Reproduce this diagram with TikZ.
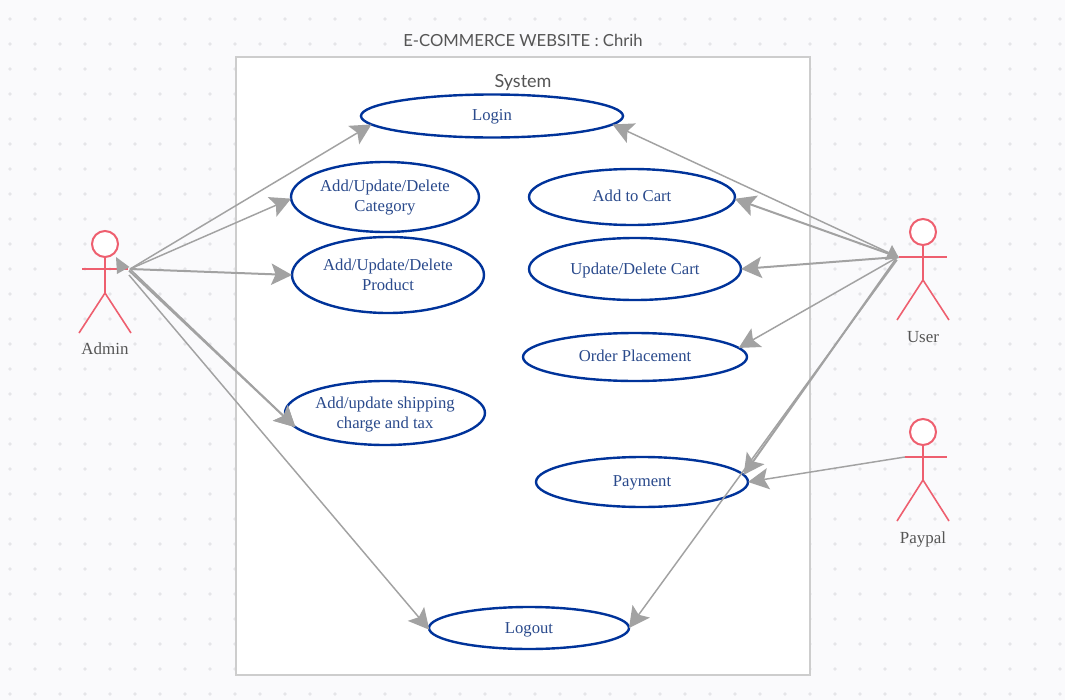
\documentclass[tikz,border=0pt]{standalone}
\usepackage{fontspec}
\setmainfont{Liberation Serif}
\newfontfamily\titlefont{Lato}
\usetikzlibrary{arrows.meta,shapes.geometric}
\definecolor{pagebg}{HTML}{FAFAFC}
\definecolor{dotc}{HTML}{E5E5E8}
\definecolor{framec}{HTML}{CDCDCD}
\definecolor{ucline}{HTML}{00339A}
\definecolor{uctext}{HTML}{2A4A8C}
\definecolor{actorc}{HTML}{EE5F6F}
\definecolor{linkc}{HTML}{A2A2A2}
\definecolor{labelc}{HTML}{555555}
\newcommand{\nudged}[2]{\raisebox{#1}[\height][\depth]{#2}}
\tikzset{
  uc/.style 2 args={ellipse,draw=ucline,fill=white,line width=1.8pt,inner sep=0pt,outer sep=0pt,
    minimum width=#1*0.75pt,minimum height=#2*0.75pt,text=uctext,align=center,
    font=\fontsize{12.5}{15}\selectfont},
  link/.style={draw=linkc,line width=1.1pt,-{Stealth[length=15.5pt,width=16pt,inset=3.2pt]}},
  linkthick/.style={link,line width=1.5pt},
  limb/.style={draw=actorc,line width=1.2pt},
  actorhead/.style={circle,draw=actorc,fill=white,line width=1.5pt,minimum size=19.5pt,inner sep=0pt,outer sep=0pt},
  actorlabel/.style={text=labelc,font=\fontsize{12.7}{14}\selectfont,inner sep=0pt},
  headtip/.style={fill=linkc},
  toptitle/.style={text=labelc,font=\titlefont\fontsize{12.5}{15}\selectfont,inner sep=0pt},
  systemtitle/.style={toptitle,font=\titlefont\fontsize{13.5}{15}\selectfont}
}
\begin{document}
\begin{tikzpicture}[x=0.75pt,y=-0.75pt]
\useasboundingbox (0,0) rectangle (1065,700);
\fill[pagebg] (0,0) rectangle (1065,700);
\foreach \i in {0,...,42}{
  \foreach \j in {0,...,27}{
    \fill[dotc] ({10+25*\i},{19+25*\j}) circle (1.4pt);
  }
}
% system frame
\node[draw=framec,fill=white,line width=1.5pt,minimum width=430.5pt,minimum height=463.5pt,inner sep=0pt,outer sep=0pt] (system) at (522.75,366) {};
\node[toptitle] (title) at (523,40) {E-COMMERCE WEBSITE : Chrih};
\node[systemtitle] (systemlabel) at (523,83) {System};
% use cases
\node[uc={262}{43}] (login) at (492,116) {\nudged{-0.75pt}{Login}};
\node[uc={188}{70}] (category) at (385,197) {\nudged{-0.75pt}{Add/Update/Delete}\\\nudged{-0.75pt}{Category}};
\node[uc={192}{76}] (product) at (388,275) {Add/Update/Delete\\Product};
\node[uc={200}{64}] (shipping) at (385,413) {\nudged{-1.5pt}{Add/update shipping}\\\nudged{-1.5pt}{charge and tax}};
\node[uc={200}{42}] (logout) at (529,628) {\nudged{-1.5pt}{Logout}};
\node[uc={206}{56}] (cart) at (632,197) {\nudged{0.75pt}{Add to Cart}};
\node[uc={212}{62}] (update) at (635,269) {\nudged{-0.75pt}{Update/Delete Cart}};
\node[uc={224}{48}] (order) at (635,357) {\nudged{0.75pt}{Order Placement}};
\node[uc={212}{50}] (payment) at (642,482) {\nudged{-0.75pt}{Payment}};
% actors
\node[actorhead] (adminhead) at (105,244) {};
\coordinate (adminneck) at (105,293);
\coordinate (adminarml) at (82,269);
\coordinate (adminarmr) at (128,269);
\coordinate (adminfootl) at (79,333);
\coordinate (adminfootr) at (131,333);
\draw[limb] (adminhead) -- (adminneck) -- (adminfootl);
\draw[limb] (adminneck) -- (adminfootr);
\draw[limb] (adminarml) -- (adminarmr);
\node[actorlabel] (adminlabel) at (105,349) {Admin};
\node[actorhead] (userhead) at (923,232) {};
\coordinate (userneck) at (923,280);
\coordinate (userarml) at (899,257);
\coordinate (userarmr) at (947,257);
\coordinate (userfootl) at (897,320);
\coordinate (userfootr) at (949,320);
\draw[limb] (userhead) -- (userneck) -- (userfootl);
\draw[limb] (userneck) -- (userfootr);
\draw[limb] (userarml) -- (userarmr);
\node[actorlabel] (userlabel) at (923,337.5) {User};
\node[actorhead] (paypalhead) at (923,432) {};
\coordinate (paypalneck) at (923,480);
\coordinate (paypalarml) at (905,457);
\coordinate (paypalarmr) at (947,457);
\coordinate (paypalfootl) at (897,521);
\coordinate (paypalfootr) at (949,521);
\draw[limb] (paypalhead) -- (paypalneck) -- (paypalfootl);
\draw[limb] (paypalneck) -- (paypalfootr);
\draw[limb] (paypalarml) -- (paypalarmr);
\node[actorlabel] (paypallabel) at (923,539) {Paypal};
% connector ends at actors
\coordinate (adminhand) at (130,269);
\coordinate (adminhandb) at (129,270.5);
\coordinate (adminhandc) at (129,275);
\coordinate (userhand) at (898,257);
\coordinate (userhandb) at (896,259);
\coordinate (userhandc) at (897,260);
% connectors
\draw[link] (adminhand) -- (login.184);
\draw[link] (adminhand) -- (category.181);
\draw[linkthick] (adminhand) -- (product.180.6);
\draw[link] (adminhand) -- (shipping.189.6);
\draw[linkthick] (adminhandb) -- (shipping.189.6);
\draw[link] (adminhandc) -- (logout.181);
\draw[link] (userhand) -- (login.-4.6);
\draw[linkthick] (userhand) -- (cart.-1.7);
\draw[linkthick] (userhand) -- (update.0);
\draw[link] (userhand) -- (order.5.6);
\draw[linkthick] (userhandb) -- (payment.4.6);
\draw[link] (userhandc) -- (logout.0);
\draw[link] (paypalarml) -- (payment.0.5);
% arrowheads pointing at the actors
\fill[headtip] (116,257) -- (129.5,267) -- (117,274) -- cycle;
\fill[headtip] (892,245) -- (899,258) -- (885,260) -- cycle;
\end{tikzpicture}
\end{document}
